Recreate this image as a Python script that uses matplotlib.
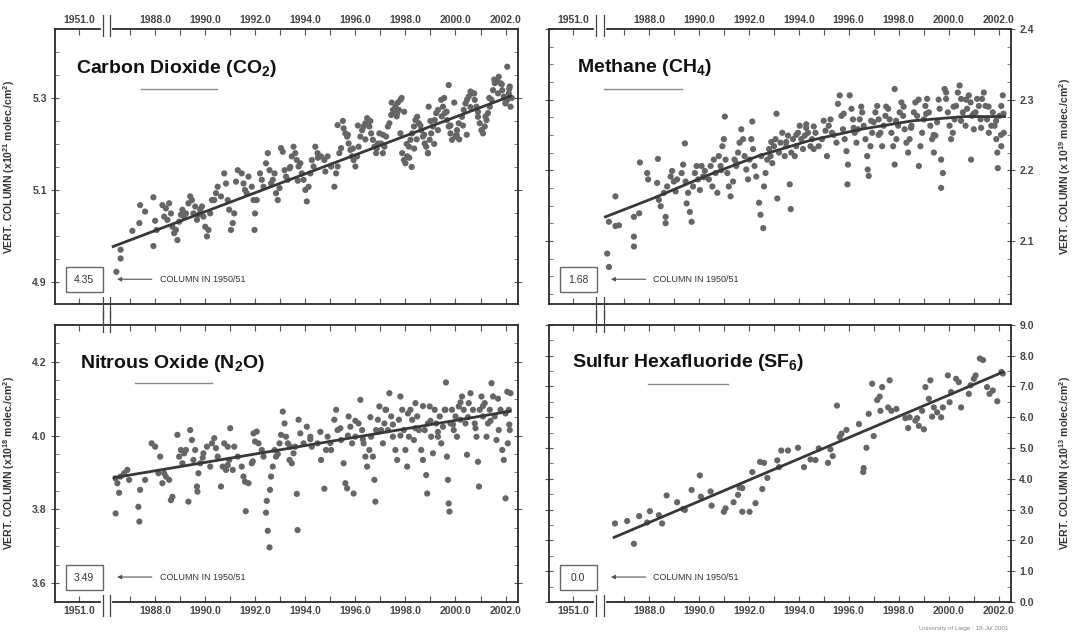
import matplotlib.pyplot as plt
from matplotlib.patches import Rectangle

plt.rcParams['font.family'] = ['Liberation Sans', 'DejaVu Sans']
plt.rcParams['mathtext.fontset'] = 'custom'
plt.rcParams['mathtext.rm'] = 'Liberation Sans'
plt.rcParams['mathtext.bf'] = 'Liberation Sans:bold'
plt.rcParams['mathtext.it'] = 'Liberation Sans:italic'

# ---- data ----
tick_years = [1988, 1990, 1992, 1994, 1996, 1998, 2000, 2002]
minor_years = list(range(1987, 2003))

# Carbon dioxide, x10^21 molec./cm2
co2_year = [1986.45, 1986.62, 1986.62, 1987.09, 1987.37, 1987.40, 1987.60, 1987.93, 1987.93, 1988.00, 1988.06,
            1988.29, 1988.43, 1988.56, 1988.36, 1988.49, 1988.63, 1988.69, 1988.76, 1988.83, 1988.89, 1988.96, 1989.03, 1989.09, 1989.16, 1989.23,
            1989.33, 1989.40, 1989.47, 1989.53, 1989.60, 1989.67, 1989.73, 1989.80, 1989.87, 1989.93, 1990.00, 1990.07, 1990.13, 1990.20, 1990.27,
            1990.36, 1990.43, 1990.50, 1990.63, 1990.76, 1990.83, 1990.90, 1990.96, 1991.03, 1991.10, 1991.16, 1991.30, 1991.23,
            1991.46, 1991.53, 1991.59, 1991.66, 1991.73, 1991.86, 1991.93, 1991.99, 1992.06, 1991.97, 1992.19, 1992.26, 1992.33,
            1992.43, 1992.50, 1992.57, 1992.63, 1992.70, 1992.77, 1992.83, 1992.90, 1992.97, 1993.03, 1993.10, 1993.17, 1993.23, 1993.30, 1993.37,
            1993.46, 1993.53, 1993.60, 1993.66, 1993.73, 1993.80, 1993.86, 1993.93, 1994.00, 1994.06, 1994.13, 1994.20, 1994.26, 1994.33, 1994.40,
            1994.49, 1994.63, 1994.76, 1994.89, 1995.03, 1995.16, 1995.23, 1995.29, 1995.36, 1995.43,
            1995.29, 1995.53, 1995.60, 1995.67, 1995.73, 1995.80, 1995.87, 1995.93, 1996.00, 1996.07, 1996.13, 1996.20, 1996.27, 1996.33, 1996.40, 1996.47,
            1996.56, 1996.63, 1996.70, 1996.76, 1996.83, 1996.90, 1996.96, 1997.03, 1997.10, 1997.16, 1997.23, 1997.30, 1997.36, 1997.43, 1997.50,
            1997.60, 1997.67, 1997.74, 1997.80, 1997.87, 1997.94, 1998.00, 1998.07, 1998.14, 1998.20, 1998.27, 1998.34, 1998.40, 1998.47, 1998.54, 1997.80,
            1998.63, 1998.70, 1998.77, 1998.83, 1998.90, 1998.97, 1999.03, 1999.10, 1999.17, 1999.23, 1999.30, 1999.43, 1999.50, 1999.57, 1999.73, 1998.93,
            1999.66, 1999.73, 1999.80, 1999.86, 2000.00, 2000.06, 2000.13, 2000.26, 2000.33, 2000.40, 2000.46, 2000.53, 2000.60,
            2000.70, 2000.77, 2000.84, 2000.90, 2000.97, 2001.04, 2001.10, 2001.17, 2001.24, 2001.30, 2001.37, 2001.44, 2001.50, 2001.57, 2001.64,
            2001.73, 2001.80, 2001.87, 2001.93, 2002.00, 2002.07, 2002.13, 2002.17, 2002.07, 2002.20]
co2_value = [4.922, 4.951, 4.970, 5.011, 5.028, 5.067, 5.053, 5.084, 4.978, 5.033, 5.013,
             5.067, 5.060, 5.071, 5.042, 5.035, 5.049, 5.020, 5.006, 5.013, 4.991, 5.031, 5.046, 5.057, 5.042, 5.049,
             5.071, 5.086, 5.078, 5.049, 5.064, 5.035, 5.046, 5.057, 5.064, 5.042, 5.020, 4.999, 5.013, 5.049, 5.078,
             5.078, 5.093, 5.107, 5.086, 5.136, 5.114, 5.078, 5.057, 5.013, 5.028, 5.049, 5.143, 5.118,
             5.136, 5.114, 5.100, 5.093, 5.129, 5.107, 5.078, 5.049, 5.078, 5.013, 5.136, 5.122, 5.107,
             5.158, 5.180, 5.143, 5.114, 5.122, 5.136, 5.093, 5.078, 5.104, 5.191, 5.183, 5.143, 5.129, 5.122, 5.147,
             5.173, 5.194, 5.180, 5.165, 5.151, 5.158, 5.136, 5.122, 5.100, 5.075, 5.107, 5.136, 5.165, 5.151, 5.194,
             5.180, 5.173, 5.165, 5.173, 5.151, 5.107, 5.136, 5.151, 5.180, 5.191,
             5.241, 5.234, 5.223, 5.216, 5.201, 5.187, 5.173, 5.165, 5.151, 5.173, 5.194, 5.216, 5.230, 5.238, 5.245, 5.256,
             5.238, 5.223, 5.209, 5.194, 5.180, 5.201, 5.223, 5.201, 5.180, 5.194, 5.216, 5.238, 5.245, 5.263, 5.274,
             5.281, 5.267, 5.274, 5.223, 5.180, 5.165, 5.158, 5.173, 5.194, 5.209, 5.223, 5.238, 5.252, 5.259, 5.245, 5.296,
             5.230, 5.216, 5.201, 5.194, 5.180, 5.209, 5.223, 5.238, 5.252, 5.267, 5.274, 5.296, 5.281, 5.267, 5.328, 5.281,
             5.252, 5.238, 5.223, 5.209, 5.216, 5.230, 5.245, 5.259, 5.274, 5.288, 5.296, 5.303, 5.314,
             5.310, 5.296, 5.281, 5.259, 5.245, 5.230, 5.223, 5.238, 5.252, 5.267, 5.281, 5.296, 5.317, 5.332, 5.339,
             5.346, 5.332, 5.317, 5.303, 5.288, 5.296, 5.310, 5.325, 5.368, 5.281]
co2_year_b = [1997.45, 1997.55, 1997.65, 1997.70, 1997.85, 1997.95, 1998.05, 1998.15, 1998.25, 1998.35, 1998.45,
              1998.60, 1998.75, 1998.90, 1999.00, 1999.15, 1999.30, 1999.45, 1999.55, 1999.65, 1999.80, 1999.95, 2000.05,
              2000.15, 2000.30, 2000.45, 2000.60, 2000.75, 2000.90, 2001.05, 2001.20, 2001.35, 2001.55, 2001.70, 2001.85,
              2002.00, 2002.15, 2002.25, 1995.50, 1995.70, 1995.90, 1996.10, 1996.40, 1996.60, 1996.85, 1997.10,
              1993.40, 1993.70, 1994.50, 1994.80]
co2_value_b = [5.29, 5.27, 5.26, 5.29, 5.30, 5.27, 5.20, 5.17, 5.15, 5.19, 5.21,
               5.24, 5.22, 5.18, 5.25, 5.20, 5.23, 5.26, 5.30, 5.27, 5.24, 5.29, 5.22,
               5.21, 5.24, 5.22, 5.28, 5.31, 5.27, 5.23, 5.26, 5.30, 5.34, 5.31, 5.33,
               5.29, 5.32, 5.30, 5.25, 5.22, 5.19, 5.24, 5.21, 5.25, 5.19, 5.22,
               5.15, 5.12, 5.17, 5.14]
co2_fit_year = [1986.32, 2002.2]
co2_fit_value = [4.977, 5.304]
co2_1950 = '4.35'

# Methane, x10^19 molec./cm2
ch4_year = [1986.33, 1986.40, 1986.40, 1986.66, 1986.80, 1986.66, 1987.40, 1987.40, 1987.40, 1987.61, 1987.64, 1987.93, 1987.97,
            1988.36, 1988.33, 1988.40, 1988.47, 1988.67, 1988.67, 1988.60, 1988.73, 1988.87, 1988.93, 1989.00, 1989.07, 1989.13,
            1989.31, 1989.37, 1989.44, 1989.47, 1989.51, 1989.57, 1989.64, 1989.71, 1989.77, 1989.84, 1989.91, 1989.97, 1990.04, 1990.11, 1990.17, 1990.24,
            1990.40, 1990.47, 1990.54, 1990.60, 1990.67, 1990.74, 1990.80, 1990.87, 1990.94, 1991.00, 1991.04, 1991.07, 1991.14, 1991.20, 1991.27,
            1991.37, 1991.43, 1991.50, 1991.57, 1991.63, 1991.70, 1991.77, 1991.83, 1991.90, 1991.97, 1992.03, 1992.10, 1992.14, 1992.17, 1992.23, 1992.30,
            1992.41, 1992.47, 1992.58, 1992.61, 1992.67, 1992.74, 1992.81, 1992.87, 1992.94, 1993.01, 1993.07, 1993.11, 1993.14, 1993.21, 1993.27, 1993.34,
            1993.44, 1993.50, 1993.57, 1993.64, 1993.68, 1993.70, 1993.77, 1993.84, 1993.90, 1993.97, 1994.04, 1994.10, 1994.17, 1994.24, 1994.30, 1994.37,
            1994.47, 1994.53, 1994.60, 1994.67, 1994.80, 1994.93, 1995.07, 1995.13, 1995.20, 1995.27, 1995.33,
            1995.51, 1995.57, 1995.64, 1995.71, 1995.77, 1995.84, 1995.91, 1995.95, 1995.97, 1996.04, 1996.11, 1996.17, 1996.24, 1996.31, 1996.37, 1996.44,
            1996.54, 1996.60, 1996.67, 1996.74, 1996.76, 1996.80, 1996.87, 1996.94, 1997.00, 1997.07, 1997.14, 1997.20, 1997.27, 1997.34, 1997.40, 1997.47,
            1997.58, 1997.64, 1997.71, 1997.78, 1997.84, 1997.84, 1997.91, 1997.98, 1998.04, 1998.11, 1998.18, 1998.24, 1998.31, 1998.38, 1998.44, 1998.51,
            1998.61, 1998.67, 1998.74, 1998.81, 1998.87, 1998.94, 1999.01, 1999.07, 1999.14, 1999.21, 1999.27, 1999.34, 1999.41, 1999.47, 1999.54,
            1999.64, 1999.70, 1999.70, 1999.77, 1999.84, 1999.90, 1999.97, 2000.04, 2000.10, 2000.17, 2000.24, 2000.30, 2000.37, 2000.44, 2000.50, 2000.57,
            2000.68, 2000.74, 2000.81, 2000.88, 2000.90, 2000.94, 2001.01, 2001.08, 2001.14, 2001.21, 2001.28, 2001.34, 2001.41, 2001.48, 2001.54, 2001.61,
            2001.71, 2001.77, 2001.84, 2001.91, 2001.95, 2001.97, 2002.04, 2002.11, 2002.17, 2002.21, 2002.11]
ch4_value = [2.082, 2.063, 2.127, 2.121, 2.122, 2.163, 2.092, 2.106, 2.134, 2.139, 2.211, 2.196, 2.187,
             2.216, 2.182, 2.158, 2.149, 2.134, 2.125, 2.168, 2.177, 2.191, 2.199, 2.184, 2.170, 2.187,
             2.196, 2.208, 2.238, 2.184, 2.153, 2.168, 2.141, 2.127, 2.177, 2.196, 2.206, 2.187, 2.172, 2.206, 2.191, 2.199,
             2.187, 2.206, 2.177, 2.215, 2.196, 2.168, 2.220, 2.206, 2.234, 2.244, 2.276, 2.215, 2.196, 2.177, 2.163,
             2.184, 2.215, 2.206, 2.225, 2.239, 2.258, 2.244, 2.220, 2.201, 2.187, 2.215, 2.244, 2.269, 2.230, 2.206, 2.191,
             2.154, 2.137, 2.118, 2.177, 2.196, 2.215, 2.230, 2.220, 2.210, 2.234, 2.244, 2.280, 2.160, 2.225, 2.239, 2.253,
             2.220, 2.234, 2.249, 2.180, 2.145, 2.225, 2.244, 2.220, 2.234, 2.253, 2.263, 2.244, 2.230, 2.249, 2.265, 2.253,
             2.234, 2.244, 2.262, 2.253, 2.234, 2.244, 2.256, 2.220, 2.263, 2.272, 2.253,
             2.239, 2.294, 2.306, 2.277, 2.258, 2.244, 2.227, 2.180, 2.208, 2.306, 2.287, 2.272, 2.253, 2.239, 2.258, 2.272,
             2.282, 2.263, 2.244, 2.220, 2.201, 2.192, 2.234, 2.253, 2.268, 2.282, 2.291, 2.272, 2.253, 2.234, 2.263, 2.277,
             2.287, 2.272, 2.253, 2.234, 2.315, 2.208, 2.244, 2.263, 2.282, 2.296, 2.277, 2.258, 2.239, 2.225, 2.244, 2.263,
             2.282, 2.296, 2.277, 2.206, 2.234, 2.253, 2.272, 2.291, 2.301, 2.282, 2.263, 2.244, 2.225, 2.249, 2.268,
             2.287, 2.215, 2.175, 2.196, 2.315, 2.301, 2.282, 2.263, 2.244, 2.253, 2.272, 2.291, 2.310, 2.320, 2.301, 2.282,
             2.263, 2.287, 2.306, 2.296, 2.215, 2.277, 2.258, 2.282, 2.301, 2.291, 2.272, 2.301, 2.310, 2.291, 2.272, 2.253,
             2.263, 2.282, 2.263, 2.244, 2.225, 2.203, 2.277, 2.291, 2.306, 2.253, 2.234]
ch4_year_b = [1993.5, 1993.9, 1994.3, 1994.6, 1995.0, 1995.4, 1995.8, 1996.2, 1996.5, 1996.9, 1997.2, 1997.5,
              1997.9, 1998.2, 1998.5, 1998.8, 1999.1, 1999.4, 1999.6, 1999.9, 2000.2, 2000.5, 2000.7, 2001.0,
              2001.3, 2001.6, 2001.9, 2002.1, 2002.2, 1992.5, 1992.9, 1991.5, 1990.9, 1990.2]
ch4_value_b = [2.24, 2.25, 2.26, 2.23, 2.27, 2.25, 2.28, 2.26, 2.29, 2.27, 2.25, 2.29,
               2.27, 2.29, 2.26, 2.30, 2.28, 2.25, 2.30, 2.31, 2.29, 2.27, 2.30, 2.28,
               2.26, 2.29, 2.27, 2.25, 2.28, 2.22, 2.24, 2.21, 2.20, 2.19]
ch4_fit_year = [1986.26, 1988.22, 1990.29, 1992.36, 1994.43, 1996.49, 1998.56, 2000.63, 2002.24]
ch4_fit_value = [2.134, 2.161, 2.192, 2.220, 2.242, 2.258, 2.270, 2.276, 2.276]
ch4_1950 = '1.68'

# Nitrous oxide, x10^18 molec./cm2
n2o_year = [1986.42, 1987.33, 1987.37, 1987.40, 1986.56, 1986.49, 1986.42, 1986.62, 1986.76, 1986.89, 1986.96, 1987.60, 1987.86, 1988.00, 1988.13, 1988.20,
            1988.29, 1988.36, 1988.43, 1988.56, 1988.63, 1988.69, 1988.89, 1988.96, 1989.03, 1989.09, 1989.16, 1989.23,
            1989.33, 1989.40, 1989.47, 1989.53, 1989.60, 1989.67, 1989.69, 1989.73, 1989.80, 1989.93, 1990.07, 1990.20, 1990.27,
            1990.36, 1990.43, 1990.50, 1990.63, 1990.70, 1990.76, 1990.83, 1990.90, 1990.96, 1991.00, 1991.10, 1991.16, 1991.30,
            1991.46, 1991.53, 1991.59, 1991.62, 1991.73, 1991.86, 1991.93, 1991.99, 1992.06, 1992.13, 1992.26, 1992.33,
            1992.43, 1992.46, 1992.50, 1992.57, 1992.59, 1992.63, 1992.70, 1992.77, 1992.83, 1992.97, 1993.03, 1993.10, 1993.17, 1993.23, 1993.30, 1993.37,
            1993.46, 1993.53, 1993.60, 1993.66, 1993.69, 1993.73, 1993.80, 1993.93, 1994.06, 1994.20, 1994.26,
            1994.49, 1994.63, 1994.76, 1994.83, 1994.89, 1995.03, 1995.16, 1995.23, 1995.29, 1995.43,
            1995.53, 1995.60, 1995.67, 1995.73, 1995.80, 1995.87, 1995.93, 1996.00, 1996.13, 1996.20, 1996.27, 1996.33, 1996.40, 1996.47,
            1996.56, 1996.63, 1996.70, 1996.76, 1996.80, 1996.83, 1996.90, 1996.96, 1997.03, 1997.10, 1997.16, 1997.23, 1997.30, 1997.36, 1997.43, 1997.50,
            1997.60, 1997.67, 1997.74, 1997.80, 1997.87, 1997.94, 1998.00, 1998.07, 1998.14, 1998.20, 1998.27, 1998.34, 1998.40, 1998.47, 1998.54,
            1998.63, 1998.70, 1998.77, 1998.83, 1998.87, 1998.90, 1998.97, 1999.03, 1999.10, 1999.17, 1999.23, 1999.30, 1999.37, 1999.43, 1999.50, 1999.57,
            1999.62, 1999.66, 1999.70, 1999.73, 1999.76, 1999.80, 1999.86, 1999.93, 2000.00, 2000.06, 2000.13, 2000.20, 2000.26, 2000.33, 2000.40, 2000.46, 2000.53, 2000.60,
            2000.70, 2000.77, 2000.84, 2000.90, 2000.94, 2000.97, 2001.04, 2001.10, 2001.17, 2001.24, 2001.30, 2001.37, 2001.44, 2001.50, 2001.57, 2001.64,
            2001.73, 2001.80, 2001.87, 2001.93, 2002.00, 2002.07, 2002.13, 2002.17, 2002.20, 2002.09]
n2o_value = [3.789, 3.807, 3.767, 3.853, 3.845, 3.871, 3.884, 3.889, 3.898, 3.907, 3.880, 3.880, 3.979, 3.970, 3.898, 3.943,
             3.871, 3.898, 3.889, 3.880, 3.825, 3.834, 4.002, 3.943, 3.961, 3.925, 3.952, 3.961,
             3.821, 4.015, 3.988, 3.934, 3.961, 3.862, 3.848, 3.898, 3.925, 3.952, 3.970, 3.916, 3.979,
             3.993, 3.966, 3.943, 3.862, 3.916, 3.979, 3.907, 3.970, 3.934, 4.020, 3.907, 3.970, 3.943,
             3.916, 3.889, 3.875, 3.795, 3.871, 3.925, 4.006, 3.984, 4.011, 3.979, 3.961, 3.943,
             3.791, 3.823, 3.742, 3.697, 3.853, 3.889, 3.916, 3.961, 3.943, 3.979, 4.002, 4.065, 4.033, 3.997, 3.979, 3.934,
             3.925, 3.952, 3.970, 3.842, 3.744, 4.043, 4.006, 3.979, 4.024, 3.997, 3.970,
             3.979, 3.934, 3.856, 3.961, 3.997, 3.961, 4.043, 4.070, 4.015, 3.988,
             3.925, 3.871, 3.857, 4.052, 4.024, 3.979, 3.843, 3.997, 4.033, 4.097, 4.015, 3.979, 3.943, 3.916,
             3.961, 3.997, 3.943, 3.880, 3.821, 4.015, 4.043, 4.079, 4.015, 3.979, 4.033, 4.070, 4.015, 4.115, 4.052, 3.997,
             3.961, 3.934, 4.043, 4.106, 4.070, 4.015, 3.961, 3.916, 3.997, 4.070, 4.043, 3.988, 4.088, 4.052, 4.015,
             3.961, 3.934, 4.015, 3.893, 3.843, 4.033, 4.079, 3.997, 3.952, 4.070, 4.033, 3.997, 4.052, 3.979, 4.024, 4.070,
             4.144, 3.943, 3.880, 3.816, 3.794, 4.033, 4.070, 4.015, 4.052, 3.997, 4.079, 4.043, 4.106, 4.070, 4.033, 3.948, 4.088, 4.115,
             4.070, 4.033, 3.997, 3.929, 3.862, 4.070, 4.106, 4.052, 4.088, 3.997, 4.033, 4.070, 4.142, 4.106, 4.052, 3.988,
             4.015, 4.070, 3.961, 3.934, 3.830, 4.119, 4.070, 4.015, 4.115, 3.979]
n2o_year_b = [1994.2, 1994.6, 1995.0, 1995.4, 1995.7, 1996.0, 1996.3, 1996.6, 1996.9, 1997.2, 1997.5, 1997.8,
              1998.1, 1998.4, 1998.7, 1999.0, 1999.3, 1999.6, 1999.9, 2000.2, 2000.5, 2000.8, 2001.1, 2001.4,
              2001.7, 2002.0, 2002.15, 1993.4, 1992.9, 1991.9, 1990.9, 1989.9]
n2o_value_b = [3.99, 4.01, 3.98, 4.02, 4.00, 4.04, 3.99, 4.05, 4.01, 4.07, 4.03, 4.00,
               4.06, 4.02, 4.08, 4.04, 4.01, 4.07, 4.03, 4.09, 4.05, 4.02, 4.08, 4.04,
               4.10, 4.06, 4.03, 3.97, 3.95, 3.93, 3.92, 3.94]
n2o_fit_year = [1986.36, 2002.18]
n2o_fit_value = [3.886, 4.066]
n2o_1950 = '3.49'

# Sulfur hexafluoride, x10^13 molec./cm2
sf6_year = [1986.64, 1987.13, 1987.40, 1987.61, 1987.93, 1988.04, 1988.40, 1988.53, 1988.71, 1989.13, 1989.37, 1989.44,
            1989.71, 1990.04, 1990.08, 1990.47, 1990.51, 1991.00, 1991.07, 1991.39, 1991.57, 1991.63, 1991.74, 1991.74,
            1992.03, 1992.14, 1992.27, 1992.45, 1992.54, 1992.61, 1992.74, 1993.14, 1993.21, 1993.30, 1993.57, 1993.97,
            1994.21, 1994.47, 1994.67, 1994.80, 1995.17, 1995.27, 1995.36, 1995.53, 1995.64, 1995.71, 1995.91, 1996.41,
            1996.58, 1996.60, 1996.71, 1996.80, 1996.94, 1997.00, 1997.14, 1997.24, 1997.34, 1997.27, 1997.64, 1997.58,
            1997.71, 1997.91, 1998.27, 1998.38, 1998.44, 1998.67, 1998.74, 1998.81, 1999.01, 1998.94, 1999.07, 1999.21,
            1999.27, 1999.34, 1999.41, 1999.54, 1999.70, 1999.77, 1999.97, 2000.04, 2000.10, 2000.30, 2000.41, 2000.50,
            2000.81, 2000.88, 2001.01, 2001.08, 2001.25, 2001.38, 2001.54, 2001.64, 2001.77, 2001.95, 2002.11, 2002.17]
sf6_value = [2.55, 2.63, 1.89, 2.79, 2.58, 2.95, 2.82, 2.55, 3.46, 3.24, 3.02, 2.99,
             3.64, 4.11, 3.42, 3.59, 3.13, 2.93, 3.04, 3.24, 3.48, 3.72, 3.70, 2.93,
             2.93, 4.22, 3.21, 4.55, 3.67, 4.52, 4.03, 4.60, 4.38, 4.92, 4.92, 5.01,
             4.38, 4.63, 4.61, 4.99, 4.52, 4.96, 4.74, 6.38, 5.36, 5.47, 5.59, 5.78,
             4.22, 4.35, 5.01, 6.11, 7.09, 5.39, 6.56, 6.67, 6.98, 6.21, 7.20, 6.32,
             6.21, 6.27, 5.97, 5.65, 6.00, 5.89, 5.97, 5.72, 5.61, 6.21, 6.98, 6.60,
             7.20, 6.02, 6.32, 6.16, 6.00, 6.32, 7.36, 6.49, 6.82, 7.25, 7.14, 6.32,
             6.76, 7.04, 7.25, 7.36, 7.91, 7.86, 6.98, 6.76, 6.87, 6.52, 7.47, 7.42]
sf6_fit_year = [1986.61, 2002.18]
sf6_fit_value = [2.10, 7.47]
sf6_1950 = '0.0'

# ---- layout ----
BREAK_TICK = 1984.96          # where the "1951.0" tick sits on the broken axis
BREAK_A, BREAK_B = 1985.9, 1986.2
DOT = '#666666'
INK = '#2a2a2a'

fig = plt.figure(figsize=(10.75, 6.34), dpi=100)
ax_co2 = fig.add_axes([0.0512, 0.5205, 0.4307, 0.4338])
ax_ch4 = fig.add_axes([0.5107, 0.5205, 0.4298, 0.4338])
ax_n2o = fig.add_axes([0.0512, 0.0505, 0.4307, 0.4370])
ax_sf6 = fig.add_axes([0.5107, 0.0505, 0.4298, 0.4370])


def panel(ax, yr, val, fit_yr, fit_val, old, title, title_xy, line_x, line_y,
          ylabel, ylim, yticks, yminor, yfmt, top, right):
    ax.scatter(yr, val, s=20, color=DOT, edgecolors='none', zorder=2)
    ax.plot(fit_yr, fit_val, color='#383838', lw=2.0, zorder=3)
    ax.set_xlim(1984.0, 2002.5)
    ax.set_ylim(*ylim)

    ax.set_xticks([BREAK_TICK] + tick_years)
    ax.set_xticklabels(['1951.0'] + ['%.1f' % y for y in tick_years])
    ax.set_xticks(minor_years, minor=True)
    ax.tick_params(axis='x', which='both', direction='in', top=True, bottom=True,
                   labeltop=top, labelbottom=not top, length=4, width=0.8,
                   color='#555', labelsize=7.5, labelcolor='#444', pad=3)
    ax.set_yticks(yticks)
    ax.set_yticklabels([yfmt % v for v in yticks])
    ax.set_yticks(yminor, minor=True)
    ax.tick_params(axis='y', which='major', direction='inout', length=6, width=0.8,
                   left=True, right=True, labelleft=not right, labelright=right,
                   color='#555', labelsize=7.5, labelcolor='#444', pad=3)
    ax.tick_params(axis='y', which='minor', direction='in', length=3, width=0.7,
                   left=True, right=True, color='#777')
    for lbl in ax.get_xticklabels() + ax.get_yticklabels():
        lbl.set_fontweight('bold')
    for sp in ax.spines.values():
        sp.set_linewidth(1.3)
        sp.set_color(INK)

    if right:
        ax.yaxis.set_label_position('right')
        ax.set_ylabel(ylabel, fontsize=7.5, fontweight='bold', color='#333', rotation=90)
        ax.yaxis.set_label_coords(1.10, 0.5)
    else:
        ax.set_ylabel(ylabel, fontsize=7.5, fontweight='bold', color='#333')
        ax.yaxis.set_label_coords(-0.082, 0.5)

    # axis break marks
    tr = ax.get_xaxis_transform()
    gap_y = 1.0 if top else 0.0
    ax.plot([BREAK_A, BREAK_B], [gap_y, gap_y], transform=tr, color='white',
            lw=3, clip_on=False, zorder=5)
    for xb in (BREAK_A, BREAK_B):
        ax.plot([xb, xb], [0.975, 1.05], transform=tr, color='#444', lw=0.9,
                clip_on=False, zorder=6)
        ax.plot([xb, xb], [-0.05, 0.025], transform=tr, color='#444', lw=0.9,
                clip_on=False, zorder=6)

    # title with grey underline
    ax.text(title_xy[0], title_xy[1], title, transform=ax.transAxes, fontsize=14,
            fontweight='bold', color='#111', va='baseline', ha='left')
    ax.plot(line_x, [line_y, line_y], transform=ax.transAxes, color='#8a8a8a', lw=1.0)

    # value in 1950/51
    ax.add_patch(Rectangle((0.023, 0.043), 0.08, 0.09, transform=ax.transAxes,
                           fill=False, ec='#666', lw=1.0, zorder=4))
    ax.text(0.063, 0.088, old, transform=ax.transAxes, ha='center', va='center',
            fontsize=7.5, color='#333')
    ax.annotate('', xy=(0.128, 0.09), xytext=(0.215, 0.09), xycoords='axes fraction',
                arrowprops=dict(arrowstyle='-|>', lw=0.8, color='#555', mutation_scale=6))
    ax.text(0.226, 0.09, 'COLUMN IN 1950/51', transform=ax.transAxes, ha='left',
            va='center', fontsize=6.5, color='#333')


panel(ax_co2, co2_year + co2_year_b, co2_value + co2_value_b, co2_fit_year, co2_fit_value, co2_1950,
      r'Carbon Dioxide (CO$_\mathbf{2}$)', (0.045, 0.84), [0.186, 0.35], 0.782,
      r'VERT. COLUMN (x10$^\mathbf{21}$ molec./cm$^\mathbf{2}$)',
      (4.852, 5.45), [4.9, 5.1, 5.3], [4.95, 5.0, 5.05, 5.15, 5.2, 5.25, 5.35, 5.4], '%.1f',
      top=True, right=False)

panel(ax_ch4, ch4_year + ch4_year_b, ch4_value + ch4_value_b, ch4_fit_year, ch4_fit_value, ch4_1950,
      r'Methane (CH$_\mathbf{4}$)', (0.061, 0.844), [0.119, 0.288], 0.782,
      r'VERT. COLUMN (x 10$^\mathbf{19}$ molec./cm$^\mathbf{2}$)',
      (2.0106, 2.4), [2.1, 2.2, 2.3, 2.4], [2.025, 2.05, 2.075, 2.125, 2.15, 2.175, 2.225, 2.25, 2.275, 2.325, 2.35, 2.375], '%.1f',
      top=True, right=True)

panel(ax_n2o, n2o_year + n2o_year_b, n2o_value + n2o_value_b, n2o_fit_year, n2o_fit_value, n2o_1950,
      r'Nitrous Oxide (N$_\mathbf{2}$O)', (0.054, 0.845), [0.173, 0.339], 0.79,
      r'VERT. COLUMN (x10$^\mathbf{18}$ molec./cm$^\mathbf{2}$)',
      (3.549, 4.30), [3.6, 3.8, 4.0, 4.2], [3.65, 3.7, 3.75, 3.85, 3.9, 3.95, 4.05, 4.1, 4.15, 4.25], '%.1f',
      top=False, right=False)

panel(ax_sf6, sf6_year, sf6_value, sf6_fit_year, sf6_fit_value, sf6_1950,
      r'Sulfur Hexafluoride (SF$_\mathbf{6}$)', (0.05, 0.847), [0.214, 0.387], 0.785,
      r'VERT. COLUMN (x10$^\mathbf{13}$ molec./cm$^\mathbf{2}$)',
      (0.0, 9.0), [0, 1, 2, 3, 4, 5, 6, 7, 8, 9], [0.5, 1.5, 2.5, 3.5, 4.5, 5.5, 6.5, 7.5, 8.5], '%.1f',
      top=False, right=True)

fig.text(0.896, 0.004, 'University of Liege : 18-Jul 2001', ha='center', va='bottom',
         fontsize=4.5, color='#888')

fig.savefig('out.png', dpi=100)
